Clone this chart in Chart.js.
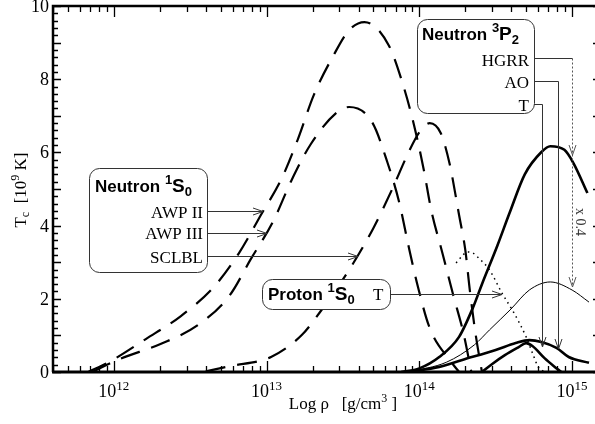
<!DOCTYPE html>
<html>
<head>
<meta charset="utf-8">
<script src="https://cdn.jsdelivr.net/npm/chart.js@4.4.1/dist/chart.umd.min.js"></script>
<style>
html,body{margin:0;padding:0;background:#fff;overflow:hidden;}
#wrap{width:600px;height:424px;}
</style>
</head>
<body>
<div id="wrap"><canvas id="c" width="600" height="424"></canvas></div>
<script>
// ---------- data (density in g/cm^3, Tc in 10^9 K) ----------
const awp2Rho = [6.8e11, 9.3e11, 1.62e12, 2.75e12, 4.47e12, 6.6e12, 9.1e12, 1.26e13, 1.6e13, 2.04e13, 2.75e13, 3.47e13, 4.37e13, 6.3e13, 7.9e13, 9.3e13, 1.07e14, 1.2e14, 1.41e14, 1.66e14, 1.95e14, 2.19e14];
const awp2Tc  = [0, 0.27, 0.90, 1.53, 2.30, 3.25, 4.26, 5.30, 6.35, 7.57, 8.66, 9.34, 9.56, 8.93, 7.79, 6.69, 5.52, 4.40, 3.28, 2.13, 1.04, 0];

const awp3Rho = [7.2e11, 1.1e12, 2.04e12, 3.63e12, 5.75e12, 7.9e12, 1.1e13, 1.45e13, 1.95e13, 2.9e13, 3.47e13, 4.9e13, 6.2e13, 7.4e13, 8.5e13, 9.8e13, 1.17e14, 1.62e14, 1.82e14];
const awp3Tc  = [0, 0.36, 0.77, 1.31, 2.10, 3.09, 4.10, 5.22, 6.23, 7.10, 7.24, 6.83, 5.71, 4.62, 3.44, 2.32, 1.20, 0.27, 0];

const sclblRho = [4.0e12, 5.75e12, 1.07e13, 1.7e13, 2.24e13, 3.47e13, 5.0e13, 6.6e13, 8.5e13, 1.0e14, 1.17e14, 1.38e14, 1.58e14, 1.82e14, 2.0e14, 2.14e14, 2.34e14, 2.57e14];
const sclblTc  = [0.02, 0.16, 0.41, 1.01, 1.64, 2.79, 3.93, 4.97, 6.00, 6.55, 6.80, 6.53, 5.68, 4.29, 3.33, 2.24, 1.01, 0];

const protonRho = [1.74e14, 1.91e14, 2.04e14, 2.24e14, 2.45e14, 2.88e14, 3.47e14, 4.17e14, 5.0e14, 5.5e14, 6.0e14, 6.6e14];
const protonTc  = [2.98, 3.17, 3.28, 3.25, 3.11, 2.79, 2.16, 1.61, 0.96, 0.52, 0.14, 0];

const hgrrRho = [7.6e13, 1.0e14, 1.35e14, 1.82e14, 2.24e14, 2.57e14, 3.24e14, 3.9e14, 4.9e14, 6.3e14, 7.2e14, 8.9e14, 1.02e15, 1.26e15];
const hgrrTc  = [0, 0.10, 0.41, 0.96, 1.75, 2.40, 3.45, 4.35, 5.40, 6.01, 6.17, 6.07, 5.71, 4.89];

const hgrr04Rho = [8.5e13, 1.51e14, 2.29e14, 2.88e14, 3.98e14, 5.25e14, 7.2e14, 1.0e15, 1.29e15];
const hgrr04Tc  = [0, 0.27, 0.74, 1.15, 1.72, 2.24, 2.46, 2.24, 1.91];

const aoRho = [8.5e13, 1.35e14, 1.91e14, 3.16e14, 4.27e14, 5.25e14, 6.3e14, 7.9e14, 9.5e14, 1.29e15];
const aoTc  = [0, 0.14, 0.33, 0.60, 0.79, 0.87, 0.82, 0.66, 0.41, 0.25];

const tRho = [2.57e14, 3.0e14, 3.63e14, 4.47e14, 5.0e14, 5.5e14, 6.6e14, 7.6e14, 8.5e14];
const tTc  = [0, 0.22, 0.46, 0.68, 0.79, 0.71, 0.38, 0.16, 0];

// ---------- axes ----------
const xMin = 4e11, xMax = 1.5e15;
const yMin = 0, yMax = 10;
const xMajorTicks = [1e12, 1e13, 1e14, 1e15];
const xTickExponents = ['12', '13', '14', '15'];
const yTickValues = [0, 2, 4, 6, 8, 10];
const yTickLabels = ['0', '2', '4', '6', '8', '10'];

const SERIF = '"Liberation Serif", "Times New Roman", serif';
const SANS = '"Liberation Sans", Arial, sans-serif';

function pts(xs, ys) { return xs.map((x, i) => ({x: x, y: ys[i]})); }

function rich(ctx, parts, x, y, align) {
  let w = 0;
  parts.forEach(p => { ctx.font = (p.b ? 'bold ' : '') + p.s + 'px ' + p.f; p.w = ctx.measureText(p.t).width; w += p.w; });
  let sx = align === 'center' ? x - w / 2 : (align === 'right' ? x - w : x);
  ctx.textAlign = 'left'; ctx.textBaseline = 'alphabetic';
  parts.forEach(p => { ctx.font = (p.b ? 'bold ' : '') + p.s + 'px ' + p.f; ctx.fillText(p.t, sx, y + (p.dy || 0)); sx += p.w; });
}

function arrowDown(ctx, x, y) {
  ctx.beginPath(); ctx.moveTo(x - 3.5, y - 10); ctx.lineTo(x, y); ctx.lineTo(x + 3.5, y - 10); ctx.stroke();
}
function arrowRight(ctx, x, y) {
  ctx.beginPath(); ctx.moveTo(x - 10, y - 3.5); ctx.lineTo(x, y); ctx.lineTo(x - 10, y + 3.5); ctx.stroke();
}

const frame = {
  id: 'frame',
  afterDatasetsDraw(chart) {
    const ctx = chart.ctx, a = chart.chartArea;
    const xs = chart.scales.x, ys = chart.scales.y;
    ctx.save();
    ctx.strokeStyle = '#000'; ctx.fillStyle = '#000';
    ctx.lineWidth = 1.3;
    for (let d = 11; d <= 15; d++) {
      for (let k = 1; k <= 9; k++) {
        const v = k * Math.pow(10, d);
        if (v < xMin || v > xMax) continue;
        const px = Math.round(xs.getPixelForValue(v)) + 0.5;
        const len = (k === 1) ? 11 : 6;
        ctx.beginPath();
        ctx.moveTo(px, a.bottom); ctx.lineTo(px, a.bottom - len);
        ctx.moveTo(px, a.top); ctx.lineTo(px, a.top + len);
        ctx.stroke();
      }
    }
    for (let i = 0; i <= 50; i++) {
      const v = i * 0.2;
      const py = Math.round(ys.getPixelForValue(v)) + 0.5;
      const major = (i % 5 === 0);
      const len = major ? 8 : 5;
      ctx.beginPath();
      ctx.moveTo(a.left, py); ctx.lineTo(a.left + len, py);
      ctx.moveTo(a.right, py); ctx.lineTo(a.right - (major ? 6 : 3), py);
      ctx.stroke();
    }
    ctx.lineWidth = 2.5;
    ctx.beginPath();
    ctx.moveTo(a.left, a.bottom); ctx.lineTo(a.left, a.top); ctx.lineTo(a.right, a.top); ctx.lineTo(a.right, a.bottom);
    ctx.stroke();
    ctx.lineWidth = 3.2;
    ctx.beginPath(); ctx.moveTo(a.left - 1, a.bottom); ctx.lineTo(a.right, a.bottom); ctx.stroke();

    yTickValues.forEach((v, i) => {
      const py = ys.getPixelForValue(v);
      rich(ctx, [{t: yTickLabels[i], s: 18, f: SERIF}], 49, py + 6, 'right');
    });
    xMajorTicks.forEach((v, i) => {
      const px = xs.getPixelForValue(v);
      rich(ctx, [{t: '10', s: 18, f: SERIF}, {t: xTickExponents[i], s: 13, f: SERIF, dy: -7}], px, 397, 'center');
    });
    rich(ctx, [{t: 'Log \u03c1   [g/cm', s: 17, f: SERIF}, {t: '3', s: 12, f: SERIF, dy: -7}, {t: ' ]', s: 17, f: SERIF}], 343, 409, 'center');
    ctx.save();
    ctx.translate(26, 190);
    ctx.rotate(-Math.PI / 2);
    rich(ctx, [{t: 'T', s: 17, f: SERIF}, {t: 'c', s: 12, f: SERIF, dy: 3}, {t: '  [10', s: 17, f: SERIF}, {t: '9', s: 12, f: SERIF, dy: -7}, {t: ' K]', s: 17, f: SERIF}], 0, 0, 'center');
    ctx.restore();
    ctx.restore();
  },
  afterDraw(chart) {
    const ctx = chart.ctx;
    ctx.save();
    ctx.fillStyle = '#000';
    ctx.strokeStyle = '#333';
    ctx.lineWidth = 1;
    // Neutron 1S0 box
    ctx.fillStyle = '#fff';
    ctx.beginPath(); ctx.roundRect(89.5, 168.5, 118, 104, 10); ctx.fill(); ctx.stroke();
    ctx.fillStyle = '#000';
    rich(ctx, [{t: 'Neutron ', s: 17, f: SANS, b: 1}, {t: '1', s: 13, f: SANS, b: 1, dy: -8}, {t: 'S', s: 19, f: SANS, b: 1}, {t: '0', s: 13, f: SANS, b: 1, dy: 4}], 95, 192, 'left');
    rich(ctx, [{t: 'AWP II', s: 17, f: SERIF}], 203, 217.5, 'right');
    rich(ctx, [{t: 'AWP III', s: 17, f: SERIF}], 203, 239, 'right');
    rich(ctx, [{t: 'SCLBL', s: 17, f: SERIF}], 203, 262.5, 'right');
    ctx.beginPath(); ctx.moveTo(207, 211.5); ctx.lineTo(263, 211.5); ctx.stroke(); arrowRight(ctx, 263, 211.5);
    ctx.beginPath(); ctx.moveTo(207, 233.5); ctx.lineTo(267, 233.5); ctx.stroke(); arrowRight(ctx, 267, 233.5);
    ctx.beginPath(); ctx.moveTo(207, 256.5); ctx.lineTo(358, 256.5); ctx.stroke(); arrowRight(ctx, 358, 256.5);

    // Neutron 3P2 box
    ctx.fillStyle = '#fff';
    ctx.beginPath(); ctx.roundRect(417.5, 19.5, 117, 94, 10); ctx.fill(); ctx.stroke();
    ctx.fillStyle = '#000';
    rich(ctx, [{t: 'Neutron ', s: 17, f: SANS, b: 1}, {t: '3', s: 13, f: SANS, b: 1, dy: -8}, {t: 'P', s: 19, f: SANS, b: 1}, {t: '2', s: 13, f: SANS, b: 1, dy: 4}], 422, 40, 'left');
    rich(ctx, [{t: 'HGRR', s: 17, f: SERIF}], 529, 65.5, 'right');
    rich(ctx, [{t: 'AO', s: 17, f: SERIF}], 529, 87.5, 'right');
    rich(ctx, [{t: 'T', s: 17, f: SERIF}], 529, 110.5, 'right');
    ctx.beginPath(); ctx.moveTo(534, 58.5); ctx.lineTo(572.5, 58.5); ctx.stroke();
    ctx.save(); ctx.strokeStyle = '#555'; ctx.setLineDash([2, 2]);
    ctx.beginPath(); ctx.moveTo(572.5, 58.5); ctx.lineTo(572.5, 287); ctx.stroke();
    ctx.restore();
    ctx.strokeStyle = '#555';
    arrowDown(ctx, 572.5, 155); arrowDown(ctx, 572.5, 287);
    ctx.strokeStyle = '#333';
    ctx.save(); ctx.translate(576, 222); ctx.rotate(Math.PI / 2);
    ctx.fillStyle = '#333';
    rich(ctx, [{t: 'x 0.4', s: 14, f: SERIF}], 0, 0, 'center');
    ctx.restore();
    ctx.beginPath(); ctx.moveTo(534, 81.5); ctx.lineTo(558.5, 81.5); ctx.lineTo(558.5, 349); ctx.stroke(); arrowDown(ctx, 558.5, 349);
    ctx.beginPath(); ctx.moveTo(534, 104.5); ctx.lineTo(542.5, 104.5); ctx.lineTo(542.5, 347); ctx.stroke(); arrowDown(ctx, 542.5, 347);

    // Proton box
    ctx.fillStyle = '#fff';
    ctx.beginPath(); ctx.roundRect(262.5, 279.5, 128, 30, 10); ctx.fill(); ctx.stroke();
    ctx.fillStyle = '#000';
    rich(ctx, [{t: 'Proton ', s: 17, f: SANS, b: 1}, {t: '1', s: 13, f: SANS, b: 1, dy: -8}, {t: 'S', s: 19, f: SANS, b: 1}, {t: '0', s: 13, f: SANS, b: 1, dy: 4}], 268, 300, 'left');
    rich(ctx, [{t: 'T', s: 17, f: SERIF}], 373, 300, 'left');
    ctx.beginPath(); ctx.moveTo(391, 294.5); ctx.lineTo(502, 294.5); ctx.stroke(); arrowRight(ctx, 502, 294.5);
    ctx.restore();
  }
};

const dashed = {borderColor: '#000', borderWidth: 2.2, borderDash: [20, 12], pointRadius: 0, cubicInterpolationMode: 'monotone', fill: false};

new Chart(document.getElementById('c'), {
  type: 'line',
  data: {
    datasets: [
      Object.assign({label: 'AWP II', data: pts(awp2Rho, awp2Tc)}, dashed),
      Object.assign({label: 'AWP III', data: pts(awp3Rho, awp3Tc)}, dashed),
      Object.assign({label: 'SCLBL', data: pts(sclblRho, sclblTc)}, dashed),
      {label: 'Proton 1S0 T', data: pts(protonRho, protonTc), borderColor: '#000', borderWidth: 1.5, borderDash: [1.5, 4], pointRadius: 0, cubicInterpolationMode: 'monotone', fill: false},
      {label: 'HGRR', data: pts(hgrrRho, hgrrTc), borderColor: '#000', borderWidth: 2.6, pointRadius: 0, cubicInterpolationMode: 'monotone', fill: false},
      {label: 'HGRR x0.4', data: pts(hgrr04Rho, hgrr04Tc), borderColor: '#000', borderWidth: 1, pointRadius: 0, cubicInterpolationMode: 'monotone', fill: false},
      {label: 'AO', data: pts(aoRho, aoTc), borderColor: '#000', borderWidth: 2.6, pointRadius: 0, cubicInterpolationMode: 'monotone', fill: false},
      {label: 'T', data: pts(tRho, tTc), borderColor: '#000', borderWidth: 2.6, pointRadius: 0, cubicInterpolationMode: 'monotone', fill: false}
    ]
  },
  options: {
    responsive: false,
    animation: false,
    devicePixelRatio: 1,
    layout: {padding: {left: 53, top: 6, right: 1, bottom: 52}},
    plugins: {legend: {display: false}, tooltip: {enabled: false}},
    scales: {
      x: {type: 'logarithmic', min: xMin, max: xMax, display: false},
      y: {type: 'linear', min: yMin, max: yMax, display: false}
    }
  },
  plugins: [frame]
});
</script>
</body>
</html>
